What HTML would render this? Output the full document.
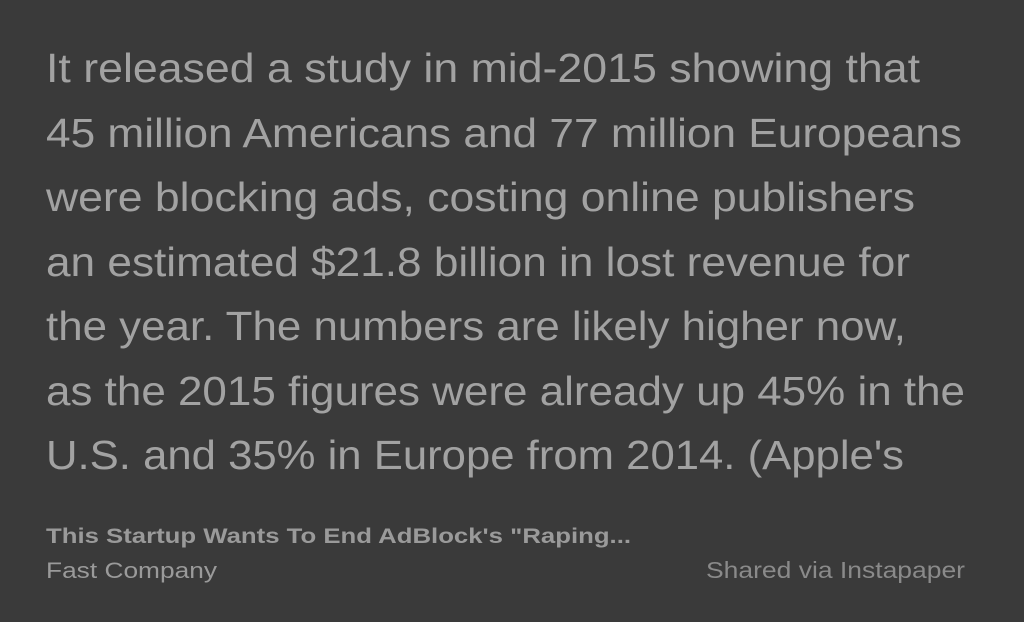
<!DOCTYPE html>
<html><head><meta charset="utf-8"><style>
html,body{margin:0;padding:0;background:#3a3a3a;}
svg{display:block}
text{font-family:"Liberation Sans",Arial,sans-serif;}
</style></head><body>
<svg width="1024" height="622" viewBox="0 0 1024 622">
<rect x="0" y="0" width="1024" height="622" fill="#3a3a3a"/>
<g fill="#a2a2a2" font-size="41">
<text x="46" y="82" textLength="874" lengthAdjust="spacingAndGlyphs">It released a study in mid-2015 showing that</text>
<text x="46" y="147" textLength="916" lengthAdjust="spacingAndGlyphs">45 million Americans and 77 million Europeans</text>
<text x="46" y="211" textLength="869" lengthAdjust="spacingAndGlyphs">were blocking ads, costing online publishers</text>
<text x="46" y="276" textLength="864" lengthAdjust="spacingAndGlyphs">an estimated $21.8 billion in lost revenue for</text>
<text x="46" y="340" textLength="860" lengthAdjust="spacingAndGlyphs">the year. The numbers are likely higher now,</text>
<text x="46" y="405" textLength="919" lengthAdjust="spacingAndGlyphs">as the 2015 figures were already up 45% in the</text>
<text x="46" y="469" textLength="858" lengthAdjust="spacingAndGlyphs">U.S. and 35% in Europe from 2014. (Apple's</text>
</g>
<text x="46" y="543" font-size="21" font-weight="bold" fill="#9a9a9a" textLength="585" lengthAdjust="spacingAndGlyphs">This Startup Wants To End AdBlock's "Raping...</text>
<text x="46" y="578" font-size="22" fill="#9a9a9a" textLength="171" lengthAdjust="spacingAndGlyphs">Fast Company</text>
<text x="706" y="578" font-size="23" fill="#8a8a8a" textLength="259" lengthAdjust="spacingAndGlyphs">Shared via Instapaper</text>
</svg>
</body></html>
